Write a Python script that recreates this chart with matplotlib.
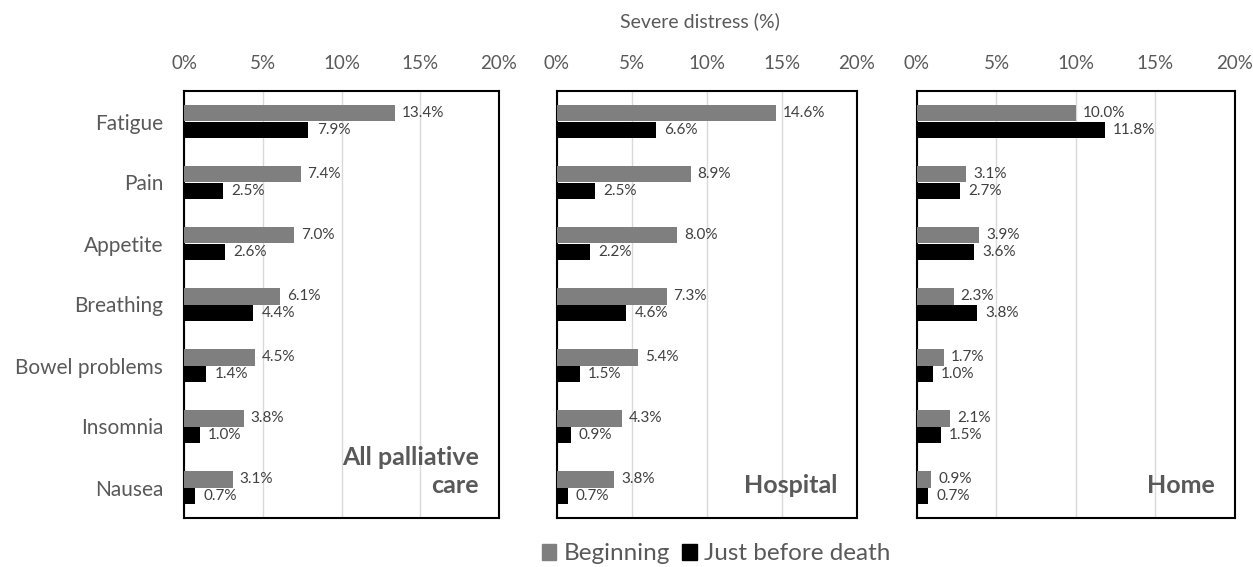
import numpy as np
import matplotlib
matplotlib.use("Agg")
import matplotlib.pyplot as plt
from matplotlib.patches import Patch
from matplotlib.ticker import PercentFormatter

plt.rcParams["font.family"] = ["Lato", "DejaVu Sans"]

categories = ["Fatigue", "Pain", "Appetite", "Breathing", "Bowel problems", "Insomnia", "Nausea"]
panel_names = ["All palliative\ncare", "Hospital", "Home"]

all_begin = [13.4, 7.4, 7.0, 6.1, 4.5, 3.8, 3.1]
all_death = [7.9, 2.5, 2.6, 4.4, 1.4, 1.0, 0.7]
hosp_begin = [14.6, 8.9, 8.0, 7.3, 5.4, 4.3, 3.8]
hosp_death = [6.6, 2.5, 2.2, 4.6, 1.5, 0.9, 0.7]
home_begin = [10.0, 3.1, 3.9, 2.3, 1.7, 2.1, 0.9]
home_death = [11.8, 2.7, 3.6, 3.8, 1.0, 1.5, 0.7]

series = [(all_begin, all_death), (hosp_begin, hosp_death), (home_begin, home_death)]

gray = "#7f7f7f"
txt = "#404040"

fig = plt.figure(figsize=(12.53, 5.67), dpi=100)
W, H = 1253, 567
lefts = [184, 557, 917]
widths = [315, 300, 318]
top, bottom = 91, 518

y = np.arange(len(categories))
bh = 0.27

for i, (beg, dea) in enumerate(series):
    ax = fig.add_axes([lefts[i] / W, 1 - bottom / H, widths[i] / W, (bottom - top) / H])
    ax.barh(y - bh / 2, beg, height=bh, color=gray, zorder=3)
    ax.barh(y + bh / 2, dea, height=bh, color="black", zorder=3)
    for v, yy in zip(beg, y - bh / 2):
        ax.annotate(f"{v:.1f}%", (v, yy), xytext=(5, 0), textcoords="offset points",
                    va="center", ha="left", fontsize=11, color=txt)
    for v, yy in zip(dea, y + bh / 2):
        ax.annotate(f"{v:.1f}%", (v, yy), xytext=(6, 0), textcoords="offset points",
                    va="center", ha="left", fontsize=11, color=txt)
    ax.set_xlim(0, 20)
    ax.set_ylim(len(categories) - 0.5, -0.5)
    ax.xaxis.set_major_formatter(PercentFormatter(decimals=0))
    ax.set_xticks([0, 5, 10, 15, 20])
    ax.xaxis.tick_top()
    ax.tick_params(axis="x", length=0, pad=14, labelsize=13.5, labelcolor="#595959")
    ax.grid(axis="x", color="#d9d9d9", linewidth=1, zorder=0)
    ax.set_axisbelow(True)
    if i == 0:
        ax.set_yticks(y)
        ax.set_yticklabels(categories)
        ax.tick_params(axis="y", length=0, pad=15, labelsize=15, labelcolor="#595959")
    else:
        ax.set_yticks([])
    for s in ax.spines.values():
        s.set_color("black")
        s.set_linewidth(1.5)
    ax.text(1 - 20 / widths[i], 25 / (bottom - top), panel_names[i], transform=ax.transAxes,
            ha="right", va="baseline", fontsize=18, fontweight="bold", color="#595959",
            linespacing=1.25)

fig.text(700 / W, 1 - 21 / H, "Severe distress (%)", ha="center", va="center",
         fontsize=14, color="#595959")

handles = [Patch(color=gray, label="Beginning"), Patch(color="black", label="Just before death")]
fig.legend(handles=handles, loc="center", bbox_to_anchor=(716 / W, 1 - 554 / H), ncol=2,
           frameon=False, fontsize=17.5, handlelength=0.6, handleheight=0.6,
           handletextpad=0.3, columnspacing=0.5, labelcolor="#595959",
           borderpad=0, borderaxespad=0)

fig.savefig("out.png", dpi=100)
